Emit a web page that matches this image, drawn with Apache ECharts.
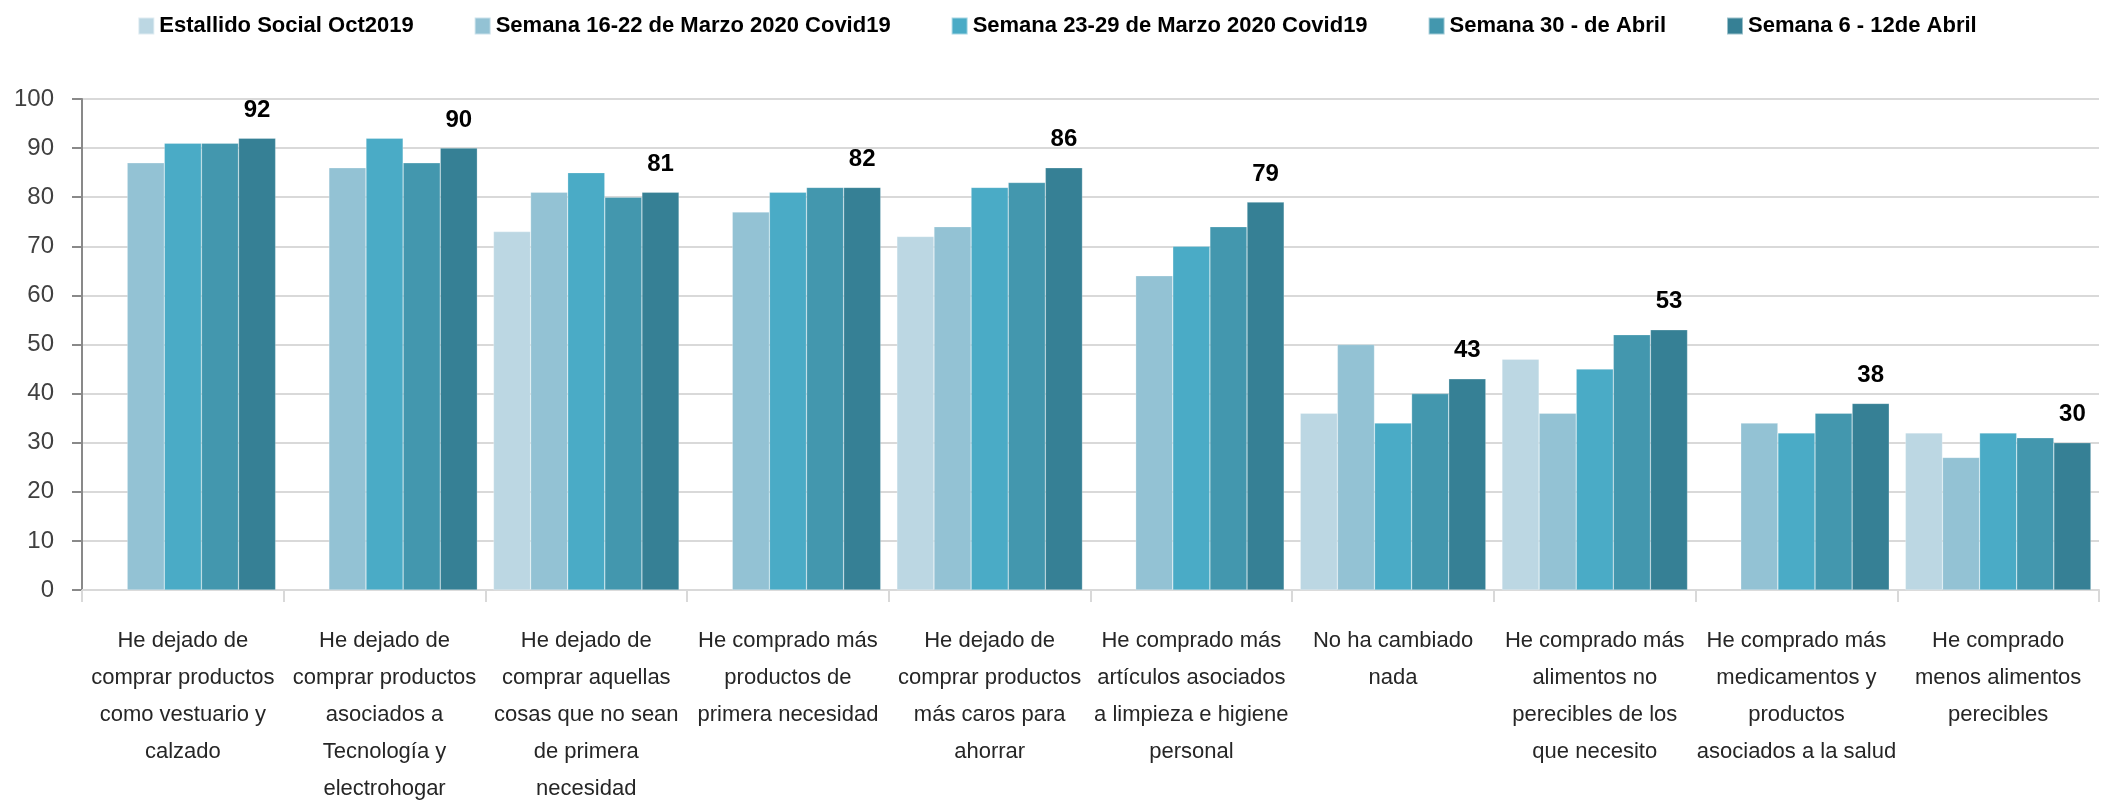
<!DOCTYPE html>
<html>
<head>
<meta charset="utf-8">
<script src="https://cdn.jsdelivr.net/npm/echarts@6/dist/echarts.min.js"></script>
<style>
  html, body { margin: 0; padding: 0; background: #fff; }
  #chart { width: 2114px; height: 808px; }
</style>
</head>
<body>
<div id="chart"></div>
<script>
// categorias (saltos de linea como en el original)
const categorias = [
  'He dejado de\ncomprar productos\ncomo vestuario y\ncalzado',
  'He dejado de\ncomprar productos\nasociados a\nTecnología y\nelectrohogar',
  'He dejado de\ncomprar aquellas\ncosas que no sean\nde primera\nnecesidad',
  'He comprado más\nproductos de\nprimera necesidad',
  'He dejado de\ncomprar productos\nmás caros para\nahorrar',
  'He comprado más\nartículos asociados\na limpieza e higiene\npersonal',
  'No ha cambiado\nnada',
  'He comprado más\nalimentos no\nperecibles de los\nque necesito',
  'He comprado más\nmedicamentos y\nproductos\nasociados a la salud',
  'He comprado\nmenos alimentos\nperecibles'
];

const nombresSeries = [
  'Estallido Social Oct2019',
  'Semana 16-22 de Marzo 2020 Covid19',
  'Semana 23-29 de Marzo 2020 Covid19',
  'Semana 30 - de Abril',
  'Semana 6 - 12de Abril'
];

const estallido = [null, null, 73, null, 72, null, 36, 47, null, 32];
const marzo16 = [87, 86, 81, 77, 74, 64, 50, 36, 34, 27];
const marzo23 = [91, 92, 85, 81, 82, 70, 34, 45, 32, 32];
const abril30 = [91, 87, 80, 82, 83, 74, 40, 52, 36, 31];
const abril6 = [92, 90, 81, 82, 86, 79, 43, 53, 38, 30];

const colores = ['#bcd7e3', '#93c2d4', '#4aabc6', '#4397ae', '#368095'];

const fuente = '"Liberation Sans", Arial, sans-serif';

const myChart = echarts.init(document.getElementById('chart'));

const datos = [estallido, marzo16, marzo23, abril30, abril6];

const series = datos.map((d, i) => ({
  name: nombresSeries[i],
  type: 'bar',
  data: d,
  barGap: 0,
  barCategoryGap: '8%',
  itemStyle: {
    color: colores[i],
    borderColor: 'rgba(255,255,255,0.5)',
    borderWidth: 0.5
  },
  // solo la ultima serie lleva etiqueta
  label: i === 4 ? {
    show: true,
    position: 'top',
    distance: 16,
    fontFamily: fuente,
    fontWeight: 'bold',
    fontSize: 24,
    color: '#000'
  } : { show: false }
}));

myChart.setOption({
  animation: false,
  textStyle: { fontFamily: fuente },
  legend: {
    data: nombresSeries,
    top: 10,
    left: 'center',
    itemWidth: 16,
    itemHeight: 17,
    itemGap: 60,
    icon: 'rect',
    textStyle: {
      fontFamily: fuente,
      fontWeight: 'bold',
      fontSize: 22,
      color: '#000'
    }
  },
  grid: {
    left: 82,
    right: 15,
    top: 99,
    bottom: 218,
    containLabel: false
  },
  xAxis: {
    type: 'category',
    data: categorias,
    axisLine: { lineStyle: { color: '#d9d9d9', width: 2 } },
    axisTick: { show: true, length: 12, lineStyle: { color: '#d9d9d9', width: 2 } },
    axisLabel: {
      interval: 0,
      margin: 32,
      fontFamily: fuente,
      fontSize: 22,
      lineHeight: 37,
      color: '#262626'
    }
  },
  yAxis: {
    type: 'value',
    min: 0,
    max: 100,
    interval: 10,
    axisLine: { show: true, lineStyle: { color: '#898989', width: 2 } },
    axisTick: { show: true, length: 10, lineStyle: { color: '#898989', width: 2 } },
    splitLine: { lineStyle: { color: '#d9d9d9', width: 2 } },
    axisLabel: {
      margin: 28,
      fontFamily: fuente,
      fontSize: 24,
      color: '#404040'
    }
  },
  series: series
});
</script>
</body>
</html>
